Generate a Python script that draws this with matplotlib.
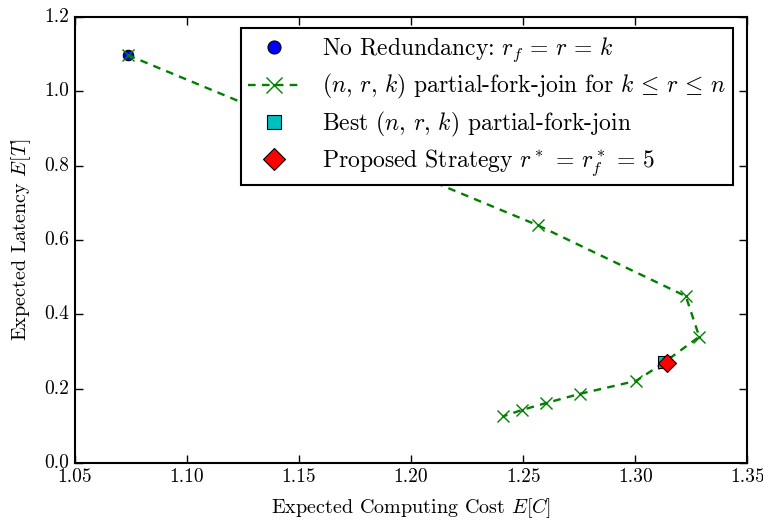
import matplotlib
matplotlib.use("Agg")
import matplotlib.pyplot as plt

plt.style.use('classic')
plt.rcParams['font.family'] = 'cmr10'
plt.rcParams['mathtext.fontset'] = 'cm'
plt.rcParams['axes.unicode_minus'] = False
plt.rcParams['axes.formatter.use_mathtext'] = True

# Data
pfj_cost = [1.0735, 1.2565, 1.3226, 1.3286, 1.3128, 1.3004, 1.2752, 1.2600, 1.2496, 1.2412]
pfj_latency = [1.098, 0.640, 0.449, 0.340, 0.270, 0.221, 0.186, 0.161, 0.143, 0.126]
noredund_cost = [1.0735]
noredund_latency = [1.098]
best_cost = [1.3128]
best_latency = [0.271]
proposed_cost = [1.3142]
proposed_latency = [0.268]

fig = plt.figure(figsize=(7.63, 5.2), dpi=100, facecolor='white')
ax = fig.add_axes([0.0983, 0.1096, 0.881, 0.8574])
ax.set_facecolor('white')

ax.plot(noredund_cost, noredund_latency, 'o', color='b', markersize=7.5,
        markeredgecolor='k', markeredgewidth=0.8, label=r'No Redundancy: $r_f\, =\, r\, =\, k$')
ax.plot(pfj_cost, pfj_latency, '--x', color='g', linewidth=1.7, markersize=9,
        markeredgewidth=1.0, dashes=(5.5, 4.5),
        label=r'$(n,\, r,\, k)$ partial-fork-join for $k\, \leq\, r\, \leq\, n$')
ax.plot(best_cost, best_latency, 's', color='c', markersize=8,
        markeredgecolor='k', markeredgewidth=0.8, label=r'Best $(n,\, r,\, k)$ partial-fork-join')
ax.plot(proposed_cost, proposed_latency, 'D', color='r', markersize=9,
        markeredgecolor='k', markeredgewidth=0.8, label=r'Proposed Strategy $r^*\, =\, r_f^*\, =\, 5$')

ax.set_xlim(1.05, 1.35)
ax.set_ylim(0.0, 1.2)
ax.set_xticks([1.05, 1.10, 1.15, 1.20, 1.25, 1.30, 1.35])
ax.set_xticklabels(['1.05', '1.10', '1.15', '1.20', '1.25', '1.30', '1.35'])
ax.set_yticks([0.0, 0.2, 0.4, 0.6, 0.8, 1.0, 1.2])
ax.set_yticklabels(['0.0', '0.2', '0.4', '0.6', '0.8', '1.0', '1.2'])
ax.tick_params(labelsize=14, direction='in', length=6, width=1)
for s in ax.spines.values():
    s.set_linewidth(1.5)

ax.set_xlabel(r'Expected Computing Cost $E[C]$', fontsize=14.5, labelpad=7)
ax.set_ylabel(r'Expected Latency $E[T]$', fontsize=14.5, labelpad=8)

leg = ax.legend(loc='upper right', bbox_to_anchor=(0.979, 0.975), borderaxespad=0,
                numpoints=1, markerscale=1.25,
                prop={'family': 'cmr10', 'size': 17}, frameon=True, fancybox=False,
                borderpad=0.3, labelspacing=0.36, handletextpad=0.9, handlelength=2.2)
leg.get_frame().set_linewidth(1.5)
leg.get_frame().set_edgecolor('k')

fig.savefig('out.png', dpi=100, facecolor='white')
